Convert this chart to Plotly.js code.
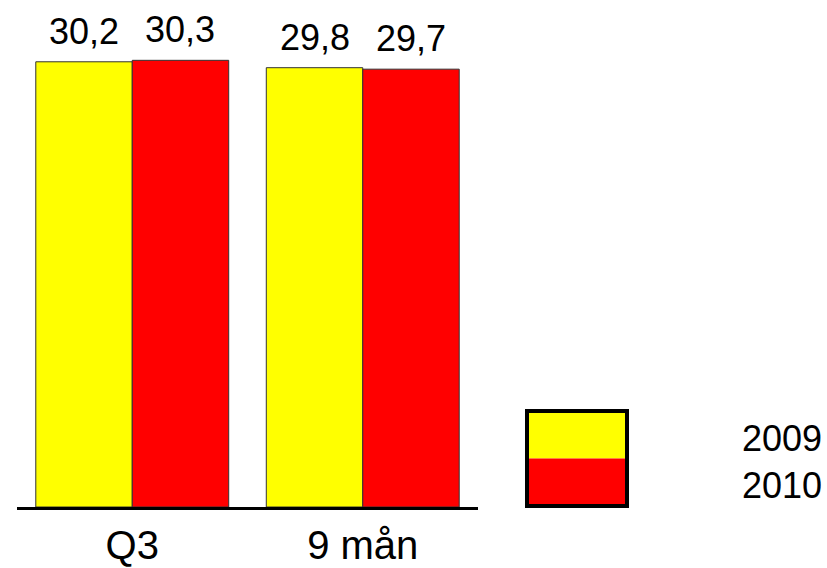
<!DOCTYPE html>
<html>
<head>
<meta charset="utf-8">
<script src="https://cdn.plot.ly/plotly-3.0.1.min.js"></script>
<style>html,body{margin:0;padding:0;background:#fff;}#chart{width:827px;height:568px;}</style>
</head>
<body>
<div id="chart"></div>
<script>
var categories = ["Q3", "9 mån"];
var seriesNames = ["2009", "2010"];
var values2009 = [30.2, 29.8];
var values2010 = [30.3, 29.7];
var colors = ["#FFFF00", "#FF0000"];

var W = 827, H = 568;
var M = {l: 17, r: 349, t: 50, b: 61};
var PW = W - M.l - M.r, PH = H - M.t - M.b;
function px(x) { return (x - M.l) / PW; }
function py(y) { return (H - M.b - y) / PH; }

var FONT = "Liberation Sans, Arial, sans-serif";
var bargap = 0.163;
var series = [values2009, values2010];

var traces = series.map(function (vals, j) {
  return {
    type: "bar",
    name: seriesNames[j],
    x: categories,
    y: vals,
    marker: {color: colors[j], line: {color: "#333333", width: 1}},
    hoverinfo: "none"
  };
});

var annotations = [];
var bw = (1 - bargap) / series.length;
series.forEach(function (vals, j) {
  vals.forEach(function (v, i) {
    annotations.push({
      x: i + (j - (series.length - 1) / 2) * bw,
      y: v,
      xref: "x", yref: "y",
      text: v.toFixed(1).replace(".", ","),
      showarrow: false,
      xanchor: "center", yanchor: "bottom",
      yshift: 8,
      font: {family: FONT, size: 36, color: "#000"}
    });
  });
});

// custom legend
var shapes = [];
var lx0 = 527, lx1 = 627, ly0 = 411, ly1 = 506;
var step = (ly1 - ly0) / seriesNames.length;
seriesNames.forEach(function (n, j) {
  shapes.push({
    type: "rect", xref: "paper", yref: "paper",
    x0: px(lx0), x1: px(lx1), y0: py(ly0 + step * (j + 1)), y1: py(ly0 + step * j),
    fillcolor: colors[j], line: {width: 0}
  });
  annotations.push({
    xref: "paper", yref: "paper",
    x: px(740), y: py(438 + 47 * j),
    text: n, showarrow: false,
    xanchor: "left", yanchor: "middle",
    font: {family: FONT, size: 36, color: "#000"}
  });
});
shapes.push({
  type: "rect", xref: "paper", yref: "paper",
  x0: px(lx0), x1: px(lx1), y0: py(ly1), y1: py(ly0),
  fillcolor: "rgba(0,0,0,0)", line: {color: "#000", width: 4}
});

var layout = {
  width: W, height: H,
  margin: M,
  paper_bgcolor: "#fff", plot_bgcolor: "#fff",
  showlegend: false,
  barmode: "group",
  bargap: bargap,
  bargroupgap: 0,
  xaxis: {
    type: "category",
    range: [-0.5, 1.5],
    showline: true, linecolor: "#000", linewidth: 3,
    showgrid: false, zeroline: false,
    ticks: "", ticklabelstandoff: 1,
    tickfont: {family: FONT, size: 40, color: "#000"},
    fixedrange: true
  },
  yaxis: {
    range: [0, 31],
    visible: false,
    showgrid: false, zeroline: false,
    fixedrange: true
  },
  annotations: annotations,
  shapes: shapes
};

Plotly.newPlot("chart", traces, layout, {staticPlot: true, displayModeBar: false});
</script>
</body>
</html>
